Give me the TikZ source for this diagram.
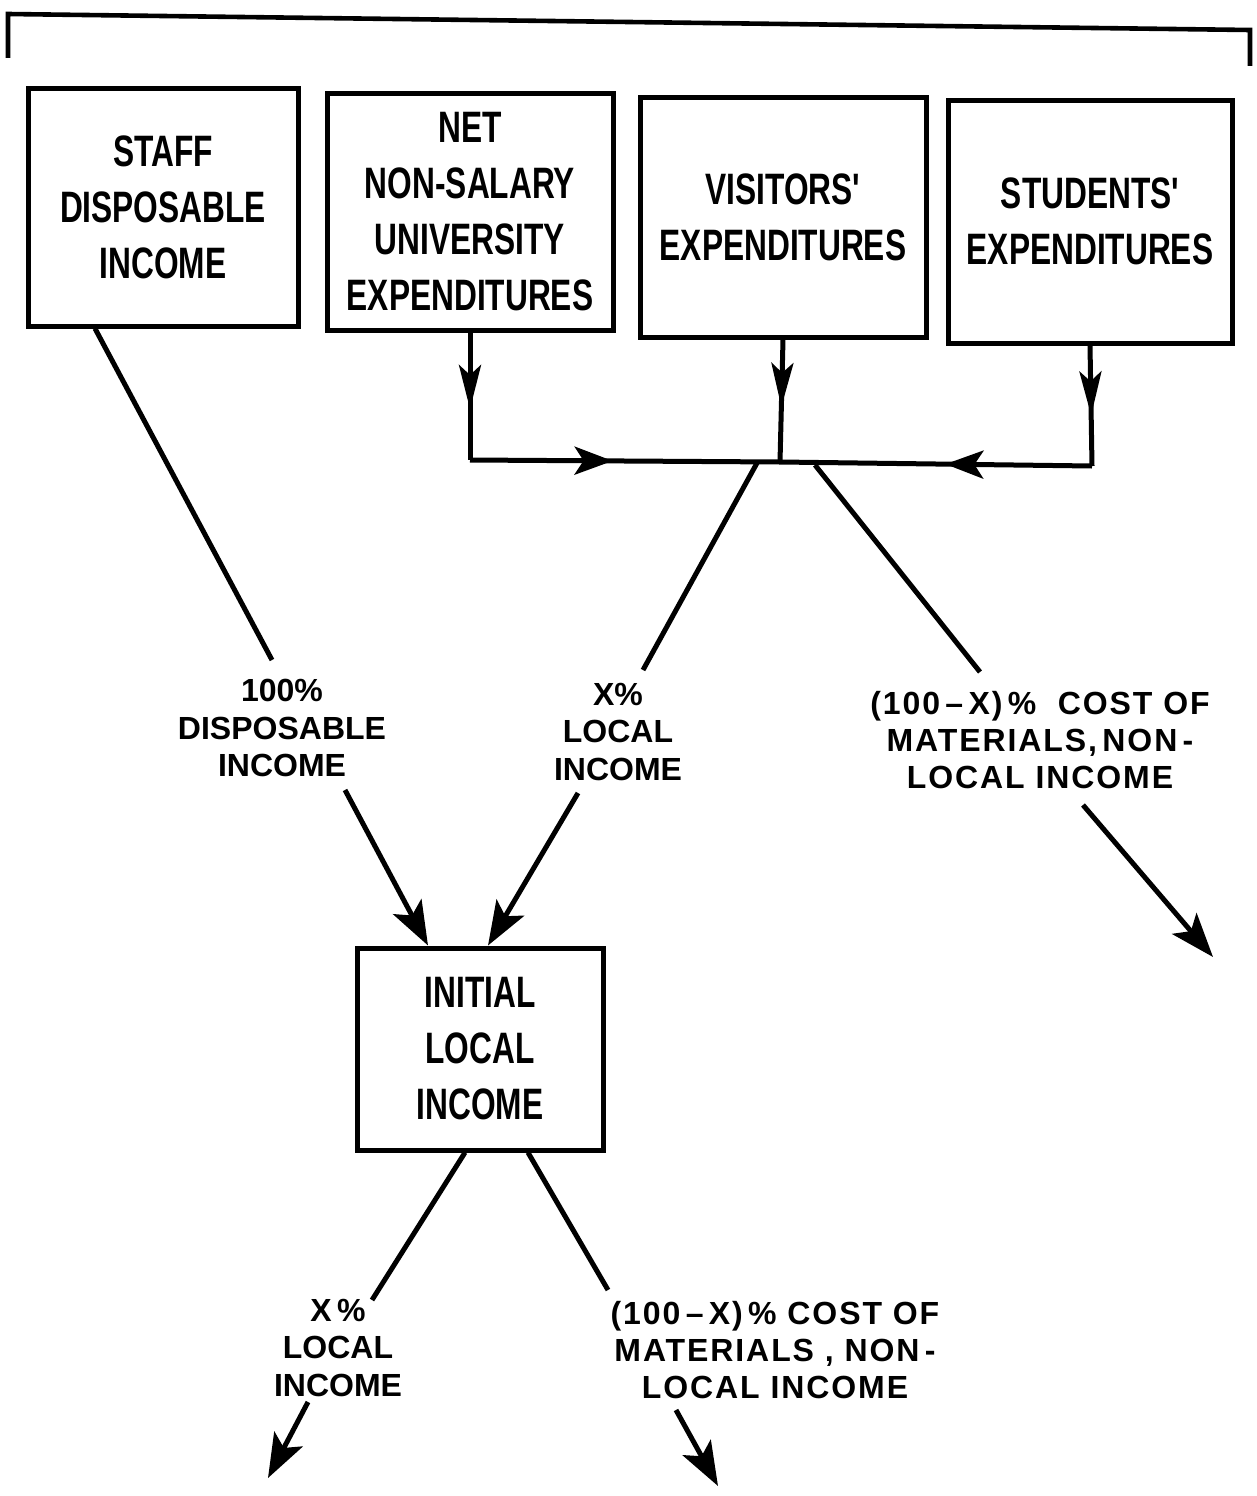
\documentclass[tikz,border=0pt]{standalone}
\usepackage{fontspec}
\usetikzlibrary{arrows.meta,decorations.markings,calc}
\newfontfamily\boxfont{Liberation Sans}[FakeStretch=0.72]
\newfontfamily\lblfont{Liberation Sans}
\newfontfamily\widefont{Liberation Sans}[LetterSpace=6]
\begin{document}
\begin{tikzpicture}[x=1pt,y=-1pt,
  box/.style={draw, line width=5pt, line join=miter, align=center, inner sep=0pt,
    font={\boxfont\bfseries\fontsize{44}{56}\selectfont}},
  lbl/.style={align=center, inner sep=0pt, font={\lblfont\bfseries\fontsize{32}{37.5}\selectfont}},
  widelbl/.style={align=center, inner sep=0pt, font={\widefont\bfseries\fontsize{32}{37}\selectfont}},
  conn/.style={line width=5pt},
  arr/.style={line width=5pt, -{Stealth[length=44pt,width=32pt,inset=10pt]}},
  midarrow/.style={postaction={decorate}, decoration={markings,
    mark=at position #1 with {\arrow{Stealth[length=44pt,width=22pt,inset=10pt]}}}},
  midarrowh/.style={postaction={decorate}, decoration={markings,
    mark=at position #1 with {\arrow{Stealth[length=38pt,width=28pt,inset=9pt]}}}}
]
\useasboundingbox (0,0) rectangle (1257,1496);

% top bracket
\draw[line width=4.6pt, line join=miter] (8,58) -- (8,14) -- (1250,30) -- (1250,66);

% boxes
\node[box, minimum width=270pt, minimum height=238pt] (staff) at (163,207) {STAFF\\DISPOSABLE\\INCOME};
\node[box, minimum width=286pt, minimum height=237pt] (net) at (470,211.5) {NET\\NON-SALARY\\UNIVERSITY\\EXPENDITURES};
\node[box, minimum width=286pt, minimum height=240pt] (vis) at (783,217) {VISITORS'\\EXPENDITURES};
\node[box, minimum width=284pt, minimum height=243pt] (stu) at (1090,221.5) {STUDENTS'\\EXPENDITURES};
\node[box, minimum width=246pt, minimum height=202pt] (init) at (480,1049) {INITIAL\\LOCAL\\INCOME};

% labels
\node[lbl] (l1) at (282,728) {100\%\\DISPOSABLE\\INCOME};
\node[lbl] (l2) at (618,732) {X\%\\LOCAL\\INCOME};
\node[widelbl] (l3) at (1040,740) {(100\,–\,X)\,\%\ \ COST OF\\MATERIALS,\,NON\,-\\LOCAL INCOME};
\node[lbl] (l4) at (338,1348) {X\,\%\\LOCAL\\INCOME};
\node[widelbl] (l5) at (775,1350) {(100\,–\,X)\,\% COST OF\\MATERIALS , NON\,-\\LOCAL INCOME};

% collecting bus
\coordinate (jl) at (470,460);
\coordinate (jc) at (780,462);
\coordinate (jr) at (1092,466);
\draw[conn, midarrow=0.6] (net.south) -- (jl);
\draw[conn, midarrow=0.55] (vis.south) -- (jc);
\draw[conn, midarrow=0.58] (stu.south) -- (jr);
\draw[conn, midarrowh=0.46] (jl) -- (jc);
\draw[conn, midarrowh=0.47] (jr) -- (jc);

% diagonals
\coordinate (bl) at (757,463);
\coordinate (br) at (815,465);
\coordinate (l1t) at (272,660);
\coordinate (l2t) at (643,670);
\coordinate (l3t) at (980,672);
\draw[conn] ([xshift=-68pt]staff.south) -- (l1t);
\draw[conn] (bl) -- (l2t);
\draw[conn] (br) -- (l3t);

\coordinate (l1b) at (345,790);
\coordinate (l2b) at (578,793);
\coordinate (l3b) at (1083,805);
\coordinate (out3) at (1213,957);
\draw[arr] (l1b) -- ([xshift=-52pt]init.north);
\draw[arr] (l2b) -- ([xshift=8pt]init.north);
\draw[arr] (l3b) -- (out3);

\coordinate (l4t) at (372,1300);
\coordinate (l5t) at (608,1290);
\draw[conn] ([xshift=-15pt]init.south) -- (l4t);
\draw[conn] ([xshift=48pt]init.south) -- (l5t);

\coordinate (l4b) at (308,1402);
\coordinate (l5b) at (676,1410);
\coordinate (out4) at (268,1478);
\coordinate (out5) at (718,1486);
\draw[arr] (l4b) -- (out4);
\draw[arr] (l5b) -- (out5);
\end{tikzpicture}
\end{document}
